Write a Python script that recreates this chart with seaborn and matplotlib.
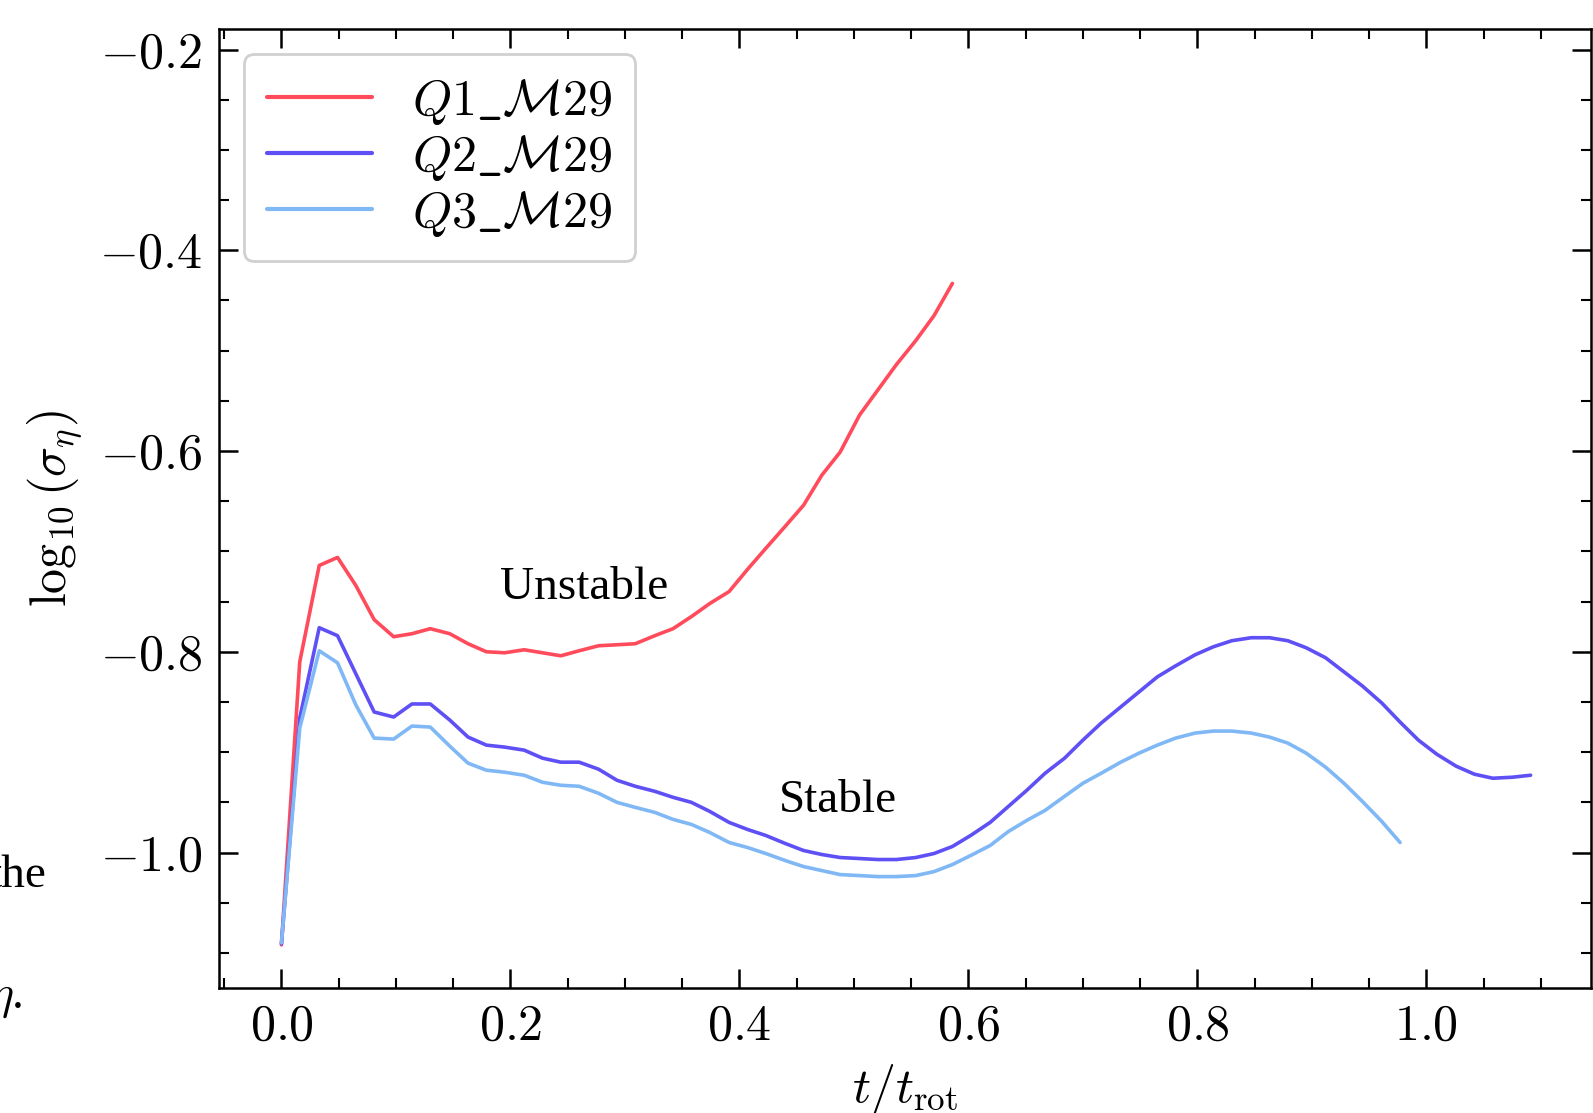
import numpy as np
import pandas as pd
import matplotlib
matplotlib.use('Agg')
import matplotlib.pyplot as plt
from matplotlib.ticker import MultipleLocator, FuncFormatter
import seaborn as sns

# time in units of t_rot (shared sampling of the snapshots)
t_all = [0.000, 0.016, 0.033, 0.049, 0.065, 0.081, 0.098, 0.114, 0.130, 0.147,
         0.163, 0.179, 0.195, 0.212, 0.228, 0.244, 0.260, 0.277, 0.293, 0.309,
         0.326, 0.342, 0.358, 0.374, 0.391, 0.407, 0.423, 0.440, 0.456, 0.472,
         0.488, 0.505, 0.521, 0.537, 0.554, 0.570, 0.586, 0.602, 0.619, 0.635,
         0.651, 0.667, 0.684, 0.700, 0.716, 0.733, 0.749, 0.765, 0.781, 0.798,
         0.814, 0.830, 0.847, 0.863, 0.879, 0.895, 0.912, 0.928, 0.944, 0.961,
         0.977, 0.993, 1.009, 1.026, 1.042, 1.058, 1.075, 1.091]

q1 = [-1.092, -0.810, -0.714, -0.706, -0.734, -0.768, -0.785, -0.782, -0.777, -0.782,
      -0.792, -0.800, -0.801, -0.798, -0.801, -0.804, -0.799, -0.794, -0.793, -0.792,
      -0.784, -0.777, -0.765, -0.752, -0.740, -0.718, -0.697, -0.675, -0.654, -0.624,
      -0.601, -0.564, -0.539, -0.514, -0.490, -0.465, -0.433]

q2 = [-1.091, -0.866, -0.776, -0.784, -0.822, -0.860, -0.865, -0.852, -0.852, -0.868,
      -0.885, -0.893, -0.895, -0.898, -0.906, -0.910, -0.910, -0.917, -0.928, -0.934,
      -0.939, -0.945, -0.950, -0.959, -0.970, -0.977, -0.983, -0.991, -0.998, -1.002,
      -1.005, -1.006, -1.007, -1.007, -1.005, -1.001, -0.994, -0.983, -0.970, -0.954,
      -0.938, -0.921, -0.906, -0.888, -0.871, -0.855, -0.840, -0.825, -0.814, -0.803,
      -0.795, -0.789, -0.786, -0.786, -0.789, -0.796, -0.806, -0.820, -0.834, -0.851,
      -0.870, -0.888, -0.902, -0.914, -0.922, -0.926, -0.925, -0.923]

q3 = [-1.090, -0.876, -0.799, -0.811, -0.853, -0.886, -0.887, -0.874, -0.875, -0.894,
      -0.911, -0.918, -0.920, -0.923, -0.930, -0.933, -0.934, -0.941, -0.950, -0.955,
      -0.960, -0.967, -0.972, -0.980, -0.990, -0.995, -1.001, -1.008, -1.014, -1.018,
      -1.022, -1.023, -1.024, -1.024, -1.023, -1.019, -1.012, -1.003, -0.993, -0.979,
      -0.968, -0.958, -0.944, -0.931, -0.921, -0.910, -0.901, -0.893, -0.886, -0.881,
      -0.879, -0.879, -0.881, -0.885, -0.891, -0.901, -0.915, -0.931, -0.949, -0.969,
      -0.990]

labels = [r'$Q1\_\mathcal{M}29$', r'$Q2\_\mathcal{M}29$', r'$Q3\_\mathcal{M}29$']
colors = ['#ff4b5b', '#5e50f5', '#80b8f5']

frames = []
for lab, vals in zip(labels, [q1, q2, q3]):
    frames.append(pd.DataFrame({'t': t_all[:len(vals)], 'sigma': vals, 'run': lab}))
df = pd.concat(frames, ignore_index=True)

sns.set_theme(style='ticks')
plt.rcParams['font.family'] = ['Liberation Serif', 'DejaVu Serif']
plt.rcParams['mathtext.fontset'] = 'cm'
plt.rcParams['axes.linewidth'] = 1.8
plt.rcParams['text.color'] = 'black'
plt.rcParams['axes.labelcolor'] = 'black'
plt.rcParams['xtick.color'] = 'black'
plt.rcParams['ytick.color'] = 'black'

fig = plt.figure(figsize=(15.93, 11.13), dpi=100)
ax = fig.add_axes([0.1375, 0.1123, 0.8612, 0.8612])

sns.lineplot(data=df, x='t', y='sigma', hue='run', palette=colors,
             linewidth=2.6, ax=ax, sort=False)

ax.set_xlim(-0.0545, 1.1437)
ax.set_ylim(-1.135, -0.180)
ax.xaxis.set_major_locator(MultipleLocator(0.2))
ax.xaxis.set_minor_locator(MultipleLocator(0.05))
ax.yaxis.set_major_locator(MultipleLocator(0.2))
ax.yaxis.set_minor_locator(MultipleLocator(0.05))
fmt = FuncFormatter(lambda v, p: r'$%.1f$' % v if abs(v) > 1e-9 else r'$0.0$')
ax.xaxis.set_major_formatter(fmt)
ax.yaxis.set_major_formatter(fmt)
ax.tick_params(which='both', direction='in', top=True, right=True, labelsize=36,
               color='black', labelcolor='black')
ax.tick_params(which='major', length=14, width=1.8, pad=12)
ax.tick_params(which='minor', length=7, width=1.5)
for s in ax.spines.values():
    s.set_color('black')

ax.set_xlabel(r'$t/t_{\rm rot}$', fontsize=36, labelpad=8)
ax.set_ylabel(r'$\log_{10}(\sigma_\eta)$', fontsize=36, labelpad=10)

ax.text(0.264, -0.736, 'Unstable', fontsize=34, ha='center', va='center', color='black')
ax.text(0.486, -0.948, 'Stable', fontsize=34, ha='center', va='center', color='black')

leg = ax.legend(loc='upper left', fontsize=36, frameon=True, fancybox=True,
                edgecolor='#d0d0d0', framealpha=1.0, handlelength=2.1,
                labelspacing=0.12, borderpad=0.45)
leg.get_frame().set_linewidth(2.0)
for ln in leg.get_lines():
    ln.set_linewidth(3.0)

# surrounding text of the page (cut off by the screenshot)
fig.text(0.0293, 0.213, 'the', fontsize=34, ha='right', va='center', color='black')
fig.text(0.014, 0.103, r'$\eta$.', fontsize=34, ha='right', va='center', color='black')

fig.savefig('out.png', dpi=100)
